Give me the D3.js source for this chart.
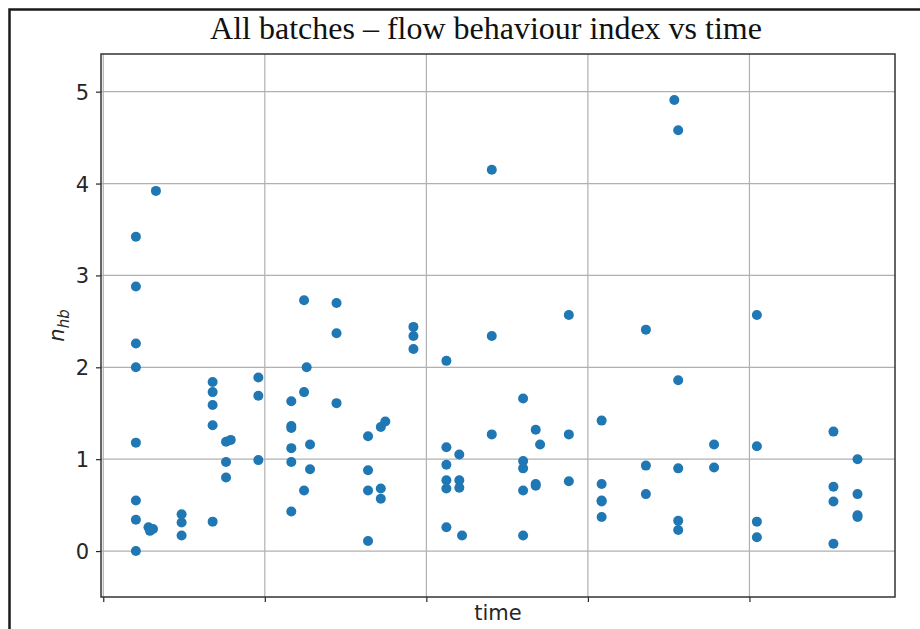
<!DOCTYPE html>
<html>
<head>
<meta charset="utf-8">
<script src="https://cdn.jsdelivr.net/npm/d3@7"></script>
<style>
  body { margin: 0; background: #fff; }
  svg { display: block; }
  .tick text { font-family: "DejaVu Sans", sans-serif; font-size: 21px; fill: #262626; }
</style>
</head>
<body>
<div id="chart"></div>
<script>
// time position of every measurement (tick at each integer step, labels hidden)
const times = [
  0.202, 0.202, 0.202, 0.202, 0.202, 0.202, 0.202, 0.202,
  0.326, 0.280, 0.289, 0.308,
  0.485, 0.485, 0.485,
  0.677, 0.677, 0.677, 0.677, 0.677,
  0.760, 0.760, 0.760, 0.789,
  0.960, 0.960, 0.960,
  1.164, 1.164, 1.164, 1.164, 1.164, 1.164,
  1.243, 1.243, 1.243, 1.259,
  1.280, 1.280,
  1.444, 1.444, 1.444,
  1.639, 1.639, 1.639, 1.639,
  1.718, 1.718, 1.718, 1.746,
  1.920, 1.920, 1.920,
  2.124, 2.124, 2.124, 2.124, 2.124, 2.124,
  2.204, 2.204, 2.204, 2.221,
  2.405, 2.405, 2.405,
  2.599, 2.599, 2.599, 2.599, 2.599,
  2.677, 2.677, 2.677, 2.704,
  2.882, 2.882, 2.882,
  3.085, 3.085, 3.085, 3.085, 3.085,
  3.359, 3.359, 3.359,
  3.535, 3.559, 3.559, 3.559, 3.559, 3.559,
  3.781, 3.781,
  4.046, 4.046, 4.046, 4.046,
  4.520, 4.520, 4.520, 4.520,
  4.669, 4.669, 4.669, 4.669
];
// flow behaviour index n_hb
const nhb = [
  3.42, 2.88, 2.26, 2.00, 1.18, 0.55, 0.34, 0.00,
  3.92, 0.26, 0.22, 0.24,
  0.40, 0.31, 0.17,
  1.84, 1.73, 1.59, 1.37, 0.32,
  1.19, 0.97, 0.80, 1.21,
  1.89, 1.69, 0.99,
  1.63, 1.36, 1.34, 1.12, 0.97, 0.43,
  2.73, 1.73, 0.66, 2.00,
  1.16, 0.89,
  2.70, 2.37, 1.61,
  1.25, 0.88, 0.66, 0.11,
  1.35, 0.68, 0.57, 1.41,
  2.44, 2.34, 2.20,
  2.07, 1.13, 0.94, 0.77, 0.68, 0.26,
  1.05, 0.77, 0.69, 0.17,
  4.15, 2.34, 1.27,
  1.66, 0.98, 0.90, 0.66, 0.17,
  1.32, 0.73, 0.71, 1.16,
  2.57, 1.27, 0.76,
  1.42, 0.73, 0.55, 0.54, 0.37,
  2.41, 0.93, 0.62,
  4.91, 4.58, 1.86, 0.90, 0.33, 0.23,
  1.16, 0.91,
  2.57, 1.14, 0.32, 0.15,
  1.30, 0.70, 0.54, 0.08,
  1.00, 0.62, 0.39, 0.37
];
const xTicks = [0, 1, 2, 3, 4];
const yTicks = [0, 1, 2, 3, 4, 5];

const width = 920, height = 629;
const plot = { left: 101, right: 895, top: 54, bottom: 597 };

const svg = d3.select("#chart").append("svg")
  .attr("width", width)
  .attr("height", height);

// figure frame (only left + top visible in the crop)
svg.append("path")
  .attr("d", `M9.5,${height} L9.5,9.5 L${width},9.5`)
  .attr("fill", "none")
  .attr("stroke", "#1a1a1a")
  .attr("stroke-width", 2.5);

svg.append("text")
  .attr("x", 486)
  .attr("y", 39)
  .attr("text-anchor", "middle")
  .style("font-family", "'Liberation Serif', 'Times New Roman', serif")
  .style("font-size", "32px")
  .style("fill", "#111")
  .text("All batches \u2013 flow behaviour index vs time");

const x = d3.scaleLinear().domain([-0.014, 4.901]).range([plot.left, plot.right]);
const y = d3.scaleLinear().domain([-0.5, 5.41]).range([plot.bottom, plot.top]);

// grid
const grid = svg.append("g").attr("stroke", "#b0b0b0").attr("stroke-width", 1.2);
grid.selectAll(".gx").data(xTicks).enter().append("line")
  .attr("x1", d => x(d)).attr("x2", d => x(d))
  .attr("y1", plot.top).attr("y2", plot.bottom);
grid.selectAll(".gy").data(yTicks).enter().append("line")
  .attr("x1", plot.left).attr("x2", plot.right)
  .attr("y1", d => y(d)).attr("y2", d => y(d));

// points
svg.append("g").selectAll("circle")
  .data(times.map((t, i) => [t, nhb[i]]))
  .enter().append("circle")
  .attr("cx", d => x(d[0]))
  .attr("cy", d => y(d[1]))
  .attr("r", 5)
  .attr("fill", "#1f77b4");

// axes
const xAxis = svg.append("g")
  .attr("transform", `translate(0,${plot.bottom})`)
  .call(d3.axisBottom(x).tickValues(xTicks).tickFormat("").tickSizeInner(5).tickSizeOuter(0));
const yAxis = svg.append("g")
  .attr("transform", `translate(${plot.left},0)`)
  .call(d3.axisLeft(y).tickValues(yTicks).tickFormat(d3.format("d")).tickSizeInner(5).tickSizeOuter(0).tickPadding(7));
[xAxis, yAxis].forEach(a => {
  a.select(".domain").remove();
  a.selectAll(".tick line").attr("stroke", "#262626").attr("stroke-width", 1.2);
});
yAxis.selectAll(".tick text").attr("dy", "0.36em");

// plot box
svg.append("rect")
  .attr("x", plot.left).attr("y", plot.top)
  .attr("width", plot.right - plot.left).attr("height", plot.bottom - plot.top)
  .attr("fill", "none")
  .attr("stroke", "#333")
  .attr("stroke-width", 1.5);

svg.append("text")
  .attr("x", (plot.left + plot.right) / 2)
  .attr("y", 620)
  .attr("text-anchor", "middle")
  .style("font-family", "'DejaVu Sans', sans-serif")
  .style("font-size", "21px")
  .style("fill", "#262626")
  .text("time");

const ylab = svg.append("text")
  .attr("transform", `translate(64,${(plot.top + plot.bottom) / 2}) rotate(-90)`)
  .attr("text-anchor", "middle")
  .style("font-family", "'DejaVu Sans', sans-serif")
  .style("font-style", "italic")
  .style("font-size", "21px")
  .style("fill", "#262626");
ylab.append("tspan").text("n");
ylab.append("tspan").attr("dy", 5).style("font-size", "15px").text("hb");
</script>
</body>
</html>
